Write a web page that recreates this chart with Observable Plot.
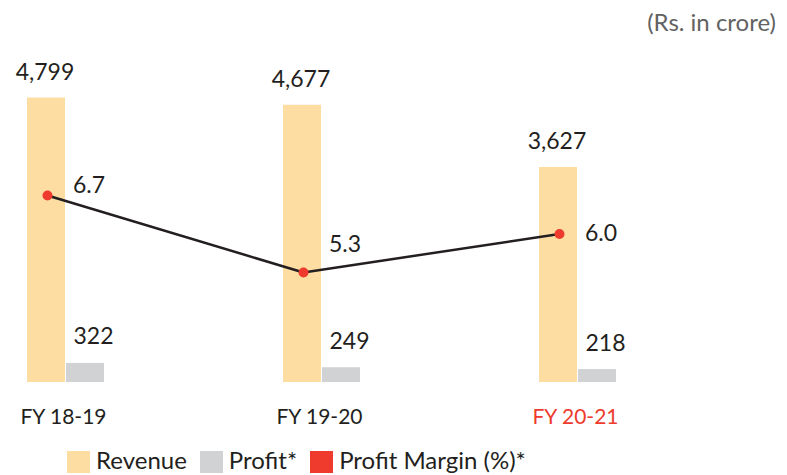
<!DOCTYPE html>
<html>
<head>
<meta charset="utf-8">
<script src="https://cdn.jsdelivr.net/npm/d3@7"></script>
<script src="https://cdn.jsdelivr.net/npm/@observablehq/plot@0.6"></script>
<style>
  html, body { margin: 0; padding: 0; background: #fff; }
  body { width: 787px; height: 475px; overflow: hidden; font-family: Lato, sans-serif; color: #231F20; }
  #title { height: 44px; box-sizing: border-box; padding-top: 8px; padding-right: 11px; text-align: right; font-size: 24px; line-height: 1.2; color: #626262; }
  #chart svg { display: block; }
  #legend { position: relative; height: 31px; }
  #legend .row { position: absolute; left: 67px; top: 7px; display: flex; align-items: flex-start; }
  #legend .sw { width: 23px; height: 22px; margin-right: 6px; }
  #legend .lab { font-size: 24px; line-height: 22px; margin-top: -2px; margin-right: 13px; white-space: nowrap; }
</style>
</head>
<body>
<div id="title">(Rs. in crore)</div>
<div id="chart"></div>
<div id="legend"><div class="row"></div></div>
<script>
// ---- data ----
const years = ["FY 18-19", "FY 19-20", "FY 20-21"];
const revenue = [4799, 4677, 3627];
const profit = [322, 249, 218];
const margin = [6.7, 5.3, 6.0];
const seriesNames = ["Revenue", "Profit*", "Profit Margin (%)*"];

// ---- styles ----
const REV = "#FDDDA2";
const PROF = "#D1D2D4";
const RED = "#EE3B2E";
const DARK = "#231F20";

const rows = years.map((year, i) => ({year, revenue: revenue[i], profit: profit[i], margin: margin[i]}));

// secondary (margin %) axis mapped onto the revenue axis
const marginToY = m => (m - 3.3) * 928;

// margin labels sit above the outgoing line segment (last one beside its point)
const pxPerUnit = 1 / 16.87;
const lookAhead = 40 / 256.5;
const marginLabelY = rows.map((d, i) => {
  const y0 = marginToY(d.margin);
  if (i === rows.length - 1) return y0;
  const y1 = marginToY(rows[i + 1].margin);
  return y0 + (y1 - y0) * lookAhead + 22 / pxPerUnit;
});

const fmtInt = d3.format(",");
const fmt1 = d3.format(".1f");

const chart = Plot.plot({
  width: 787,
  height: 400,
  marginTop: 0, marginRight: 0, marginBottom: 0, marginLeft: 0,
  x: {type: "band", domain: years, range: [26, 616], paddingInner: 0.7, paddingOuter: 0, axis: null},
  y: {domain: [0, 5000], range: [338, 338 - 5000 / 16.87], axis: null},
  color: {type: "identity"},
  style: {fontFamily: "Lato, sans-serif", background: "transparent"},
  marks: [
    Plot.barY(rows, {x: "year", y: "revenue", fill: REV, insetRight: 39}),
    Plot.barY(rows, {x: "year", y: "profit", fill: PROF, insetLeft: 39}),
    Plot.line(rows, {x: "year", y: d => marginToY(d.margin), stroke: DARK, strokeWidth: 2.5, dx: -18.5}),
    Plot.dot(rows, {x: "year", y: d => marginToY(d.margin), r: 5, fill: RED, stroke: null, dx: -18.5}),
    Plot.text(rows, {x: "year", y: "revenue", text: d => fmtInt(d.revenue), dx: -21, dy: -18.5,
      lineAnchor: "bottom", fontSize: 23, fill: DARK}),
    Plot.text(rows, {x: "year", y: "profit", text: d => fmtInt(d.profit), dx: 7.5, dy: -19,
      lineAnchor: "bottom", textAnchor: "start", fontSize: 23, fill: DARK}),
    Plot.text(rows, {x: "year", y: (d, i) => marginLabelY[i], text: d => fmt1(d.margin), dx: 7, dy: 0,
      lineAnchor: "middle", textAnchor: "start", fontSize: 23, fill: DARK}),
    Plot.text(years, {x: d => d, y: () => 0, text: d => d, dx: -2.5, dy: 41, lineAnchor: "bottom",
      fontSize: 21, fill: d => d === years[years.length - 1] ? RED : DARK})
  ]
});
document.getElementById("chart").appendChild(chart);

// ---- legend ----
const legendColors = [REV, PROF, RED];
const row = document.querySelector("#legend .row");
seriesNames.forEach((name, i) => {
  const sw = document.createElement("div");
  sw.className = "sw";
  sw.style.background = legendColors[i];
  const lab = document.createElement("div");
  lab.className = "lab";
  lab.textContent = name;
  row.appendChild(sw);
  row.appendChild(lab);
});
</script>
</body>
</html>
